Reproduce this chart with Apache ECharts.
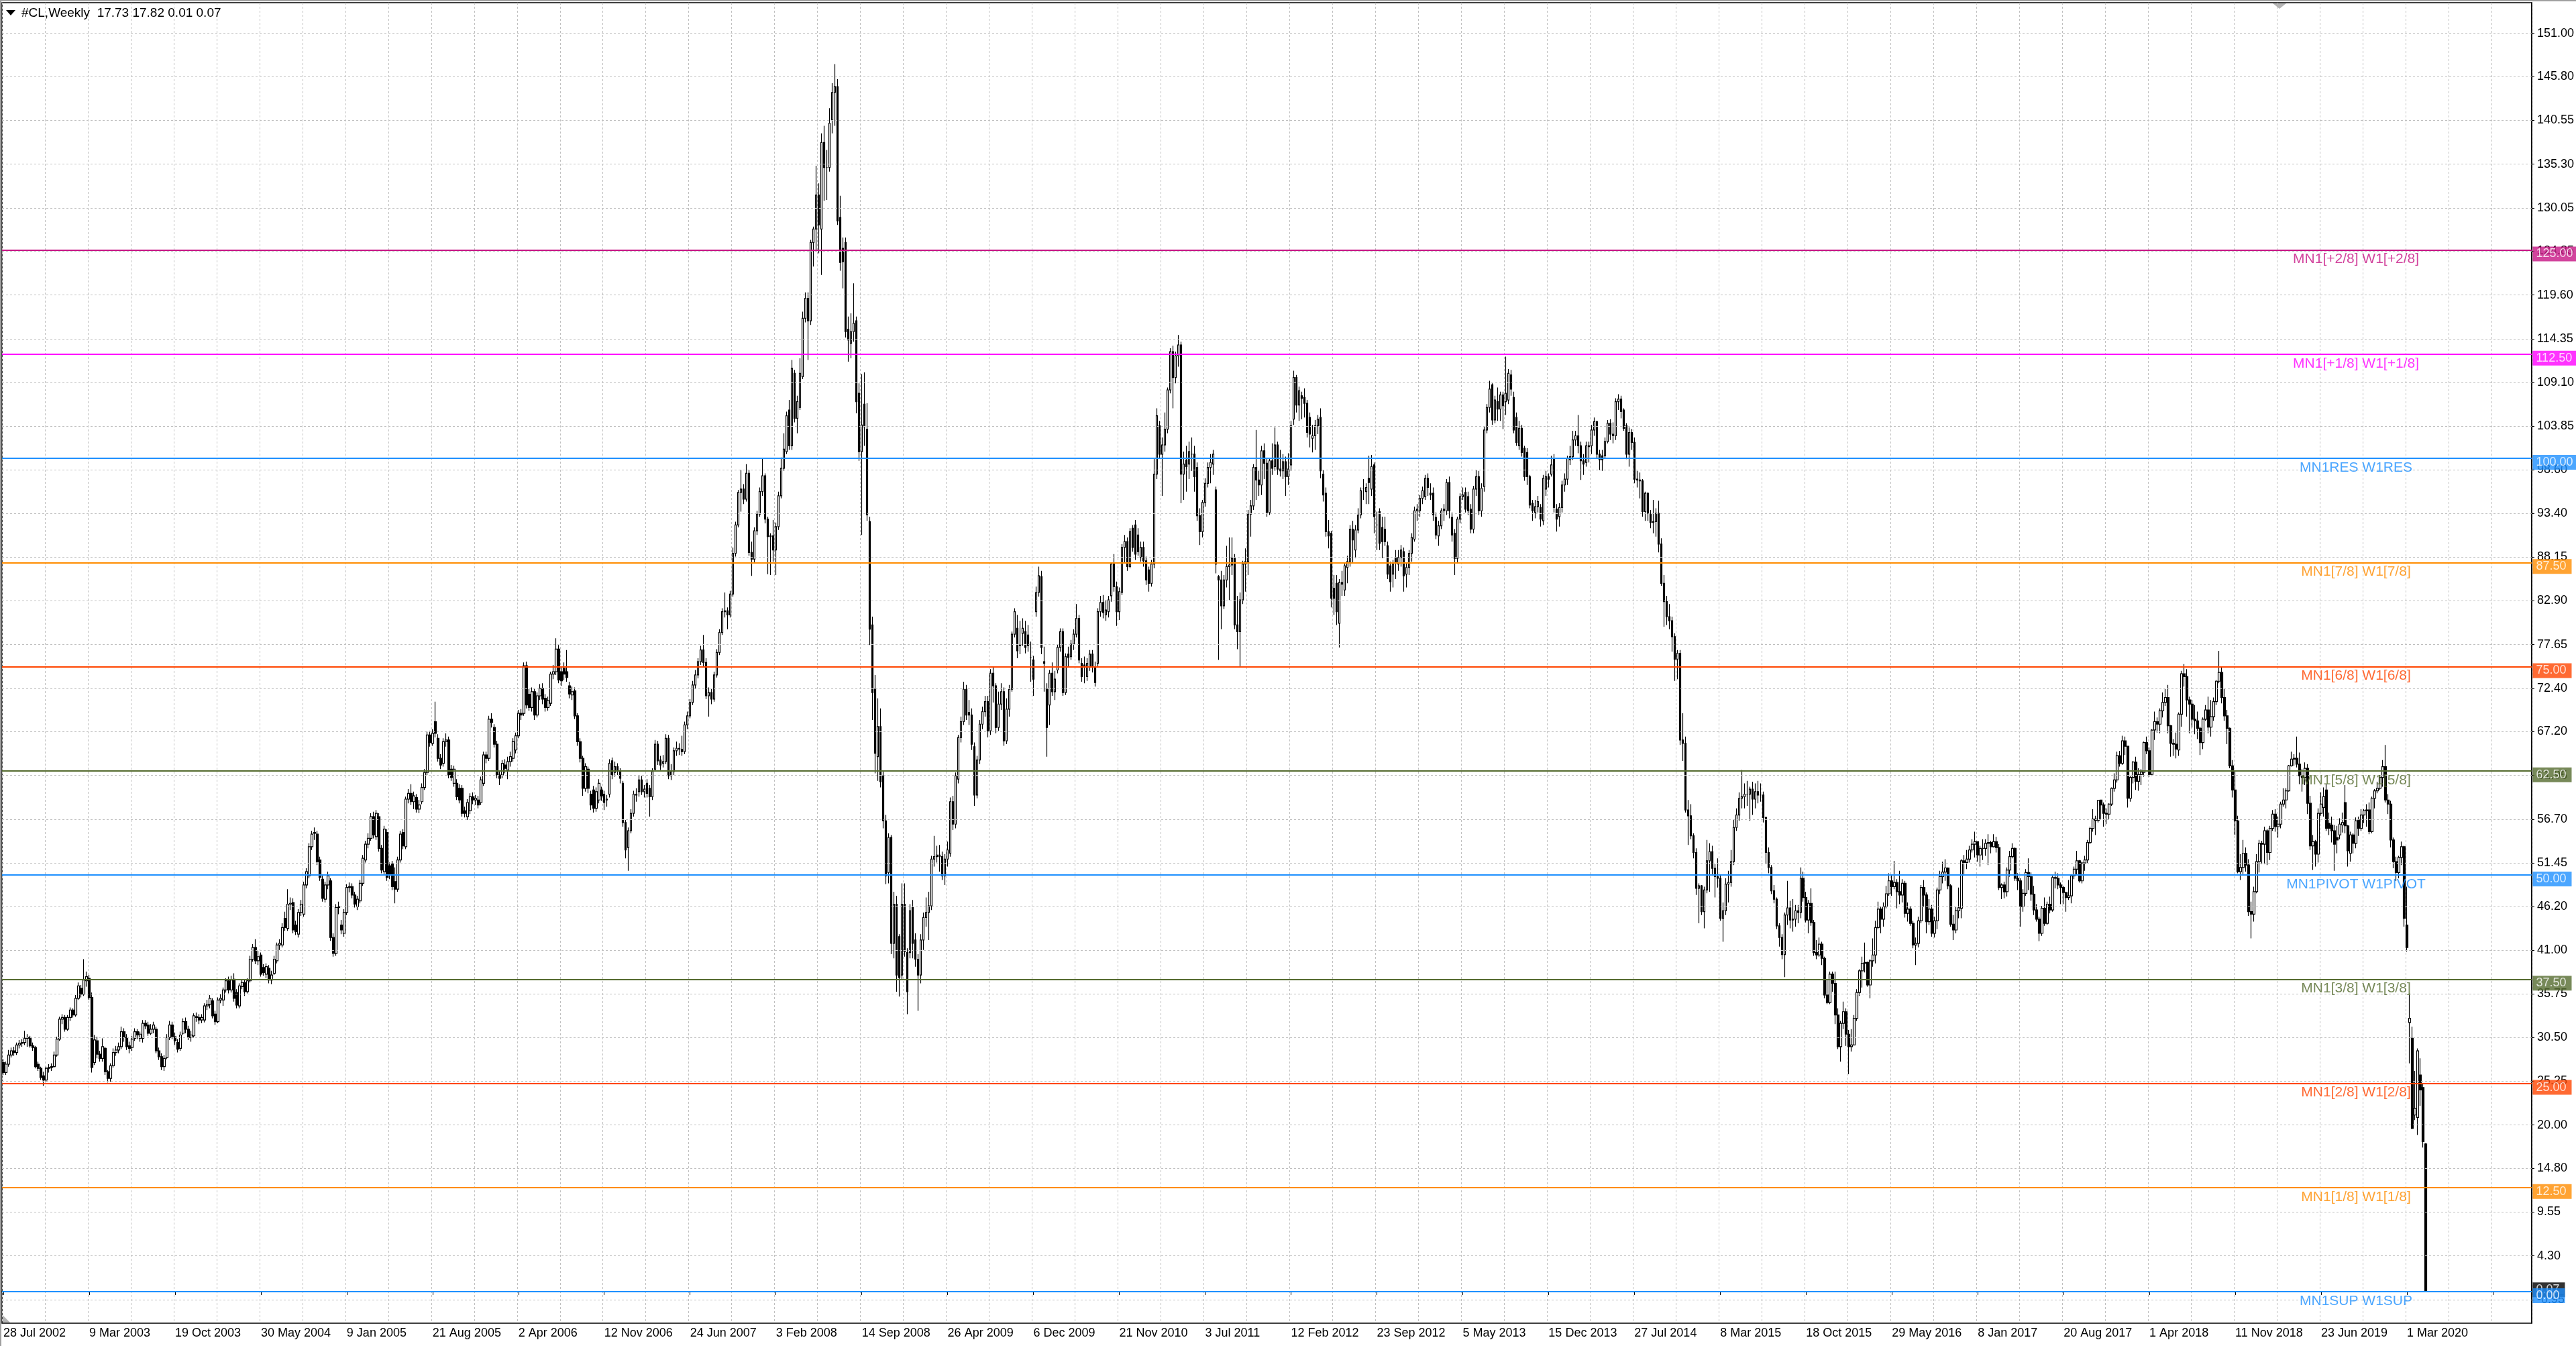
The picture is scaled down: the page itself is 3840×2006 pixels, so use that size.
<!DOCTYPE html>
<html>
<head>
<meta charset="utf-8">
<script src="https://cdn.jsdelivr.net/npm/echarts@6/dist/echarts.min.js"></script>
<style>
html,body{margin:0;padding:0;background:#fff;}
#chart{width:3840px;height:2006px;}
</style>
</head>
<body>
<div id="chart"></div>
<script>
// ---- Data: weekly bars of #CL, each entry [open, close, low, high] ----
const d2002 = [[27.5,26.3,26.0,27.9],[26.3,27.3,26.0,27.6],[27.3,28.4,27.0,29.0],[28.4,28.9,28.1,29.3],[28.9,28.7,28.3,29.4],[28.7,29.6,28.4,29.9],[29.6,29.8,29.2,30.2],[29.8,29.9,29.4,30.3],[29.9,30.4,29.6,31.3],[30.4,30.5,29.4,30.9],[30.5,29.5,29.3,30.7],[29.5,29.3,28.9,29.9],[29.3,27.0,26.8,29.5],[27.3,26.8,26.5,27.6],[26.8,25.7,25.4,27.0],[25.9,25.4,24.7,26.4],[25.4,26.8,25.2,27.0],[26.8,26.9,26.3,27.3],[26.9,27.0,26.5,27.4],[27.0,28.4,26.9,28.8],[28.4,30.3,28.2,30.6],[30.3,32.7,30.1,33.0],[32.7,32.9,32.1,33.3]];
const d2003 = [[32.9,31.5,31.2,33.2],[31.5,32.9,31.3,33.2],[32.9,33.8,32.5,34.1],[33.8,33.2,32.9,34.0],[33.2,35.2,33.0,35.6],[35.2,36.7,35.0,37.1],[36.4,35.7,35.3,36.8],[35.7,37.4,35.5,39.9],[37.3,37.8,36.6,38.4],[37.6,35.3,35.0,38.0],[35.3,26.9,26.3,35.9],[27.5,30.2,27.2,30.8],[30.1,28.5,28.0,30.6],[28.5,28.0,27.6,28.9],[28.0,29.4,27.6,30.4],[29.2,26.4,26.0,29.4],[26.4,25.6,25.1,26.6],[25.6,27.1,25.2,27.4],[27.1,28.7,26.9,29.2],[28.7,29.0,28.3,29.5],[29.0,29.4,28.6,29.9],[29.4,31.2,29.1,31.8],[31.2,30.5,30.0,31.6],[30.5,29.4,29.0,30.9],[29.5,29.2,28.6,30.0],[29.3,30.3,28.9,30.7],[30.4,31.2,30.1,31.6],[31.2,30.8,30.3,31.5],[30.4,30.9,30.0,31.2],[30.4,32.2,29.9,32.6],[32.2,31.9,31.5,32.6],[32.0,31.0,30.7,32.4],[31.0,31.5,30.8,32.1],[31.5,32.0,31.0,32.4],[31.5,28.9,28.6,31.8],[28.9,28.2,27.8,29.3],[28.2,27.0,26.6,28.6],[27.0,28.0,26.5,28.4],[28.1,30.5,27.9,30.9],[30.5,32.0,30.2,32.5],[32.0,30.6,30.3,32.4],[30.6,30.1,29.6,31.1],[29.9,29.1,28.7,30.3],[29.2,30.8,28.9,31.2],[31.0,32.4,30.8,32.8],[32.4,31.5,31.0,32.9],[31.5,30.5,30.2,31.9],[30.5,30.8,30.0,31.3],[30.7,33.1,30.5,33.4],[33.0,32.9,32.4,33.5],[32.9,32.6,32.1,33.3],[32.6,32.9,32.2,33.3]];
const d2004 = [[32.6,34.3,32.3,34.6],[34.3,34.5,33.8,35.0],[34.5,35.2,34.0,35.6],[34.9,33.1,32.8,35.2],[33.3,32.4,32.0,33.7],[32.4,35.0,32.2,35.3],[35.0,35.2,34.6,35.7],[35.0,36.2,34.3,36.5],[36.2,37.3,35.9,37.6],[37.3,36.2,35.8,37.8],[36.2,37.4,35.9,37.9],[37.5,35.2,34.8,38.2],[35.9,34.4,34.0,36.3],[34.3,36.7,34.0,37.0],[36.6,37.1,36.3,37.5],[37.1,36.0,35.5,37.4],[36.0,37.3,35.8,37.6],[37.3,39.9,37.1,40.3],[39.9,41.3,39.6,41.7],[41.3,39.7,39.3,42.3],[39.7,40.2,39.2,40.9],[40.4,38.1,37.8,40.7],[38.9,38.3,37.9,39.3],[38.1,39.0,37.6,39.4],[38.8,37.4,37.0,39.2],[37.4,38.0,36.9,38.5],[38.2,39.9,38.0,40.3],[39.7,41.6,39.4,41.9],[41.6,41.8,41.0,42.3],[41.6,43.7,41.3,44.2],[44.8,43.7,43.3,45.6],[43.6,46.5,43.3,48.3],[46.5,46.6,45.8,47.3],[46.7,43.4,43.0,47.2],[44.0,43.2,42.8,44.5],[42.9,45.5,42.5,45.9],[45.5,46.5,45.1,47.0],[45.3,48.8,45.0,49.2],[48.8,50.4,48.4,50.8],[49.9,53.4,49.6,53.8],[53.4,54.9,53.0,55.3],[55.1,55.0,54.2,55.7],[54.9,51.6,51.2,55.3],[51.8,49.7,49.3,52.2],[49.5,47.2,46.8,49.9],[47.1,48.8,46.7,49.2],[48.8,49.9,48.3,50.4],[49.3,42.5,42.1,49.6],[42.5,40.6,40.2,43.0],[40.6,46.1,40.3,46.5],[46.1,46.2,45.3,46.8],[44.0,43.4,42.9,44.6]];
const d2005 = [[43.0,45.5,42.6,45.9],[45.5,48.5,45.2,48.9],[48.5,48.6,47.9,49.1],[48.6,47.6,47.2,49.0],[47.6,46.5,46.1,48.0],[46.2,47.1,45.8,47.5],[46.9,49.0,46.6,49.4],[49.0,52.0,48.7,52.4],[51.8,53.7,51.5,54.1],[53.7,54.4,53.2,55.0],[54.4,57.0,54.1,57.4],[57.0,54.8,54.4,57.6],[54.6,57.4,54.2,57.8],[57.0,53.2,52.8,57.4],[53.2,50.6,50.2,53.6],[50.4,55.5,50.1,55.9],[55.1,49.7,49.3,55.5],[51.1,50.0,49.5,51.5],[51.3,48.6,48.2,51.7],[49.2,48.3,46.6,50.9],[48.3,51.8,48.0,52.2],[51.8,54.9,51.5,55.3],[55.1,53.5,53.1,55.5],[53.4,59.1,53.1,59.4],[59.1,59.8,58.6,60.3],[59.8,58.8,58.4,60.9],[58.8,59.5,57.9,60.0],[59.3,57.9,57.5,59.7],[57.9,58.4,57.4,59.0],[58.8,60.5,58.5,61.0],[60.5,62.3,60.2,62.7],[62.3,66.8,62.0,67.2],[66.8,65.9,65.4,67.3],[65.8,67.0,65.5,67.5],[68.4,67.0,66.5,70.8],[66.4,64.0,63.6,66.9],[64.0,63.2,62.7,64.5],[63.4,66.0,63.0,66.4],[66.0,66.2,65.4,67.0],[66.2,62.0,61.6,66.6],[62.7,61.7,61.3,63.2],[61.0,62.7,60.6,63.1],[61.0,59.4,59.0,61.5],[60.4,59.0,58.6,60.9],[60.4,57.4,57.0,60.8],[57.7,57.4,56.9,58.2],[57.0,58.7,56.6,59.1],[57.7,59.4,57.3,59.8],[59.4,59.0,58.5,59.9],[59.0,59.2,58.4,59.6],[59.0,58.4,58.0,59.5],[58.7,61.4,58.4,61.8]];
const d2006 = [[61.0,64.4,60.7,64.8],[64.4,64.0,63.4,64.8],[64.0,68.7,63.7,69.1],[68.7,68.3,67.7,69.4],[67.7,65.7,65.3,68.1],[65.7,62.0,61.6,66.1],[62.0,61.6,60.8,62.4],[62.0,63.4,61.6,63.8],[63.2,62.8,62.2,63.9],[62.6,63.6,61.5,64.2],[63.6,64.2,63.0,64.8],[64.0,66.0,63.6,66.4],[65.0,66.7,64.6,67.1],[66.7,69.4,66.4,69.8],[69.4,69.2,68.6,69.9],[69.4,75.1,69.1,75.5],[75.1,70.4,70.0,75.6],[71.7,70.1,69.7,72.3],[70.1,72.0,69.6,72.5],[72.0,69.2,68.6,72.4],[69.2,71.5,68.9,71.9],[71.5,72.4,71.0,72.9],[72.4,71.1,70.5,73.0],[71.2,70.1,69.6,71.7],[70.1,70.9,69.7,71.4],[70.6,74.1,70.3,74.4],[74.1,74.4,73.5,75.2],[74.4,77.1,74.0,78.4],[77.1,73.4,73.0,77.6],[74.4,73.3,72.7,75.0],[74.8,74.1,73.4,75.5],[74.4,73.7,73.2,77.0],[72.7,71.7,71.2,73.2],[71.6,72.0,71.0,72.6],[72.1,69.1,68.7,72.5],[69.1,66.0,65.5,69.4],[66.0,64.0,63.5,66.4],[64.0,60.4,59.5,64.3],[60.4,63.0,60.0,63.4],[62.7,60.4,59.8,63.0],[59.7,58.4,57.8,60.1],[60.2,58.0,57.5,60.7],[58.0,60.0,57.6,60.5],[59.0,61.0,58.6,61.5],[60.2,59.5,58.9,60.6],[59.7,58.7,57.8,60.1],[59.0,59.1,58.2,59.6],[59.7,63.4,59.3,63.9],[63.7,62.0,61.5,64.1],[62.3,63.0,61.8,63.6],[63.0,62.6,62.0,63.4],[62.4,61.6,61.0,62.8]];
const d2007 = [[61.0,56.3,55.8,61.3],[56.3,53.0,52.0,56.6],[53.3,55.3,50.5,55.7],[55.3,57.4,55.0,57.9],[57.4,59.7,57.0,60.1],[59.7,59.6,58.8,60.4],[60.0,61.4,59.4,61.9],[61.4,60.0,59.6,61.9],[60.0,60.3,59.3,60.8],[61.0,59.8,59.3,61.5],[60.4,59.4,57.0,60.8],[59.4,62.4,59.0,62.8],[62.7,65.7,62.4,66.2],[65.7,63.7,63.2,66.1],[63.8,63.2,62.6,64.3],[63.4,63.6,62.9,64.4],[63.6,66.4,63.3,66.9],[66.4,61.9,61.5,66.8],[61.9,62.4,61.4,63.3],[62.4,64.9,62.0,65.3],[64.9,65.2,64.3,66.0],[65.2,65.1,64.4,65.8],[65.1,64.8,64.3,66.7],[64.8,68.0,64.5,68.4],[68.0,69.1,67.5,69.6],[69.1,70.7,68.8,71.1],[70.7,72.8,70.4,73.3],[72.8,74.0,72.3,74.6],[74.0,75.6,73.6,76.0],[75.6,77.0,75.2,77.5],[77.0,75.5,75.0,78.8],[75.5,71.5,71.1,76.0],[71.5,71.9,69.0,72.5],[71.9,71.1,70.5,72.3],[71.1,74.0,70.8,74.4],[74.0,76.7,73.7,77.1],[76.7,79.1,76.4,79.5],[79.1,81.6,78.8,82.0],[81.6,81.7,80.9,83.9],[81.7,81.2,79.5,82.1],[81.2,83.7,80.9,84.1],[83.7,88.6,83.4,89.3],[88.6,92.0,88.2,92.4],[92.0,95.9,91.7,96.2],[95.9,96.3,93.6,98.6],[96.3,95.1,94.5,96.9],[95.1,98.2,94.8,99.3],[98.2,88.7,88.3,98.6],[88.7,87.9,85.9,90.0],[87.9,91.3,87.5,91.7],[91.3,93.3,90.8,93.7],[93.3,96.0,93.0,96.5]];
const d2008 = [[96.0,97.9,95.5,100.0],[97.9,92.7,92.2,98.2],[92.7,90.6,86.1,93.0],[90.6,90.7,86.0,91.0],[90.7,89.0,87.6,92.6],[89.0,91.8,86.0,92.3],[91.8,95.5,91.4,96.0],[95.5,98.8,95.2,100.1],[98.8,101.1,98.5,103.0],[100.8,105.1,100.5,105.6],[105.8,101.5,101.0,107.0],[101.5,110.8,101.0,111.8],[110.2,104.8,104.3,110.6],[104.8,106.8,103.0,107.5],[106.1,110.2,105.8,112.0],[109.8,116.8,109.5,117.6],[116.8,119.2,116.3,119.9],[119.2,116.5,111.8,119.9],[116.5,125.9,116.0,126.2],[125.9,127.5,123.0,127.8],[127.5,131.6,125.0,135.1],[131.6,128.0,124.6,133.0],[127.5,137.9,122.0,139.0],[137.9,134.9,130.9,139.9],[134.9,134.9,131.0,137.0],[134.9,140.2,134.4,142.0],[140.6,143.9,139.0,145.0],[143.9,144.6,139.9,147.3],[144.6,128.5,128.0,145.5],[128.9,123.5,122.5,131.5],[125.2,123.6,120.4,126.5],[125.9,115.2,114.5,126.5],[115.5,114.2,111.6,117.0],[113.8,115.2,112.0,117.4],[115.2,116.2,114.0,121.0],[116.5,106.8,105.4,117.0],[107.8,100.8,99.7,109.0],[100.8,104.0,90.8,110.1],[106.5,103.8,101.5,110.3],[103.5,93.2,92.5,106.6],[92.4,79.5,77.6,93.0],[80.0,71.9,68.6,81.0],[72.3,64.6,62.2,74.0],[64.2,67.8,61.3,71.2],[67.8,61.2,60.5,70.0],[61.9,56.5,55.6,62.5],[56.5,49.9,48.9,57.2],[50.3,54.5,49.0,55.0],[54.5,41.8,40.5,54.8],[41.8,46.5,40.0,48.0],[46.5,38.0,36.0,47.5],[42.6,37.7,35.4,42.9]];
const d2009 = [[38.0,46.5,37.5,49.0],[46.5,40.8,40.2,49.0],[40.7,36.0,33.3,41.2],[40.7,45.7,40.0,46.5],[46.1,41.8,40.0,47.0],[42.2,39.9,39.0,43.0],[39.9,38.0,33.7,40.5],[38.0,42.2,37.0,42.9],[42.2,44.9,41.0,45.5],[44.9,45.5,43.8,47.3],[45.5,46.3,42.2,48.0],[46.3,51.9,45.8,52.3],[51.9,52.2,51.0,54.7],[52.2,52.4,51.5,53.5],[52.4,52.2,50.4,53.6],[52.2,49.9,49.4,52.8],[49.9,51.9,48.8,52.5],[51.9,53.0,51.0,54.0],[52.6,58.8,52.2,59.3],[58.8,56.1,55.4,59.5],[56.1,61.9,55.6,62.3],[61.5,66.5,61.0,66.8],[66.5,68.4,65.9,69.0],[68.4,72.3,68.0,73.2],[72.3,69.2,68.6,72.8],[69.5,69.2,68.0,71.0],[69.2,65.7,65.0,70.0],[65.4,59.6,58.3,65.9],[59.6,63.8,59.2,64.3],[63.8,68.1,63.3,68.6],[68.1,69.6,67.5,70.2],[69.6,70.8,69.0,71.5],[70.8,67.3,66.5,71.5],[67.3,74.2,66.8,74.7],[74.2,72.7,70.7,75.0],[72.7,67.7,67.0,73.0],[67.7,70.5,67.3,72.0],[70.5,72.0,69.8,73.0],[72.0,66.1,65.5,72.5],[66.1,69.9,65.7,71.2],[69.9,72.3,69.0,72.8],[72.3,78.9,72.0,79.2],[78.9,81.6,78.5,82.0],[79.6,76.9,76.0,81.2],[77.5,77.6,76.5,80.5],[79.0,79.6,77.5,80.8],[79.2,77.3,76.6,80.5],[78.8,77.5,76.8,80.0],[76.1,76.1,73.2,78.0],[75.8,73.5,71.5,76.3]];
const d2010 = [[81.6,83.9,81.0,84.6],[83.9,85.9,83.4,87.0],[85.8,77.3,76.5,86.5],[75.6,75.4,72.0,77.4],[72.3,67.7,64.2,73.0],[70.4,74.2,68.0,74.6],[74.2,72.0,71.5,75.5],[72.0,73.5,71.0,74.5],[74.6,77.3,74.2,77.7],[77.3,79.2,76.8,79.6],[79.2,71.9,71.5,79.6],[71.9,76.2,71.6,76.6],[76.5,76.1,75.0,77.4],[76.2,77.7,75.8,78.2],[77.7,78.9,77.0,79.5],[78.9,80.8,78.5,82.5],[80.8,75.8,75.4,81.2],[75.4,73.8,73.2,76.0],[75.2,75.0,73.0,76.2],[73.8,75.4,73.3,76.0],[75.0,76.5,74.5,77.0],[76.5,75.0,74.3,77.0],[75.0,73.1,72.6,75.6],[75.4,81.6,75.0,82.0],[81.6,82.7,81.0,83.5],[82.7,81.5,80.8,83.6],[81.2,81.8,80.5,83.0],[81.6,83.0,80.9,83.5],[83.5,87.3,82.8,87.5],[87.3,84.6,84.0,88.5],[84.6,81.6,79.9,85.2],[81.6,84.0,80.6,84.5],[83.9,89.3,83.6,89.7],[89.3,90.0,87.5,90.8],[90.0,87.0,86.5,90.5],[87.0,91.2,86.8,91.6],[91.6,89.3,88.8,92.0]];
const d2011 = [[92.0,88.5,87.8,92.6],[90.8,88.8,88.3,91.6],[88.1,89.3,87.6,90.0],[89.3,87.7,87.0,90.0],[87.7,85.4,84.8,88.2],[86.6,85.0,84.0,87.0],[85.0,87.3,84.6,87.8],[87.3,98.1,86.8,100.0],[98.1,105.1,97.5,106.0],[103.9,100.5,100.0,104.5],[100.5,101.6,95.5,102.5],[101.6,103.5,100.8,105.5],[103.5,108.2,103.0,108.5],[108.2,112.8,107.8,113.2],[112.8,109.7,106.0,113.5],[109.7,112.3,109.0,112.8],[112.3,113.6,111.0,114.8],[113.6,98.1,94.6,114.0],[98.1,99.3,95.0,100.8],[99.8,99.0,96.0,101.5],[99.3,100.8,97.5,102.0],[100.5,100.5,98.5,102.5],[100.5,97.8,96.0,101.5],[98.9,93.1,92.5,99.5],[93.1,91.2,89.6,94.0],[91.2,94.7,90.5,95.0],[94.7,97.0,94.2,97.6],[97.0,98.9,96.5,99.5],[98.9,99.5,97.0,100.5],[99.3,100.5,98.0,101.0],[96.2,87.3,86.2,96.6],[85.8,85.4,75.8,86.0],[85.4,82.3,79.5,86.5],[82.3,85.4,81.9,86.0],[85.4,87.0,84.5,89.5],[87.0,87.2,83.0,90.5],[87.2,88.0,86.0,90.5],[88.0,80.0,79.5,88.5],[80.0,79.2,77.1,83.5],[79.2,83.0,75.0,83.9],[83.0,87.3,82.5,87.7],[87.3,87.6,84.0,89.2],[87.6,93.3,86.0,93.8],[93.3,94.3,90.6,95.0],[94.3,98.9,93.8,99.3],[98.9,97.4,95.0,103.4],[97.4,96.8,95.5,98.5],[96.8,100.9,95.6,101.5],[100.9,99.4,97.5,101.8],[99.4,93.5,93.0,100.0],[93.5,99.7,93.2,100.0],[99.7,98.8,98.0,101.8]];
const d2012 = [[99.0,101.6,98.5,103.7],[101.6,98.7,98.0,102.0],[98.7,98.5,97.8,101.0],[98.5,99.6,97.5,100.5],[99.6,97.8,95.5,100.2],[97.8,98.7,96.8,100.6],[99.2,103.9,98.5,104.5],[104.7,109.7,104.0,110.5],[109.7,106.4,105.5,110.0],[106.4,108.1,104.5,108.6],[107.5,107.2,104.7,108.0],[107.3,106.6,104.9,108.4],[106.6,103.1,102.5,107.0],[104.9,102.9,101.3,105.5],[102.4,102.7,100.7,104.0],[102.7,103.9,101.0,104.6],[103.9,104.7,102.9,105.2],[104.9,98.5,97.6,106.0],[98.1,95.6,94.8,98.6],[95.8,91.2,90.6,96.5],[91.2,90.7,89.2,92.6],[91.0,83.2,82.1,91.3],[84.4,83.2,81.2,86.0],[85.0,81.6,80.0,86.0],[80.2,85.1,77.3,85.5],[85.1,84.9,83.5,86.5],[84.2,87.1,83.5,87.5],[86.9,87.6,85.0,88.3],[87.4,91.5,87.0,92.0],[91.5,90.2,87.5,92.5],[89.0,91.4,88.0,92.0],[91.4,93.2,91.0,94.0],[93.2,96.1,92.8,96.5],[96.4,96.4,95.0,97.5],[96.0,96.5,94.5,97.0],[97.6,97.1,94.5,100.3],[96.3,99.0,95.5,100.4],[99.2,93.0,91.0,99.5],[92.0,92.0,89.0,93.6],[93.6,89.8,89.0,94.0],[91.7,90.0,88.0,93.0],[91.5,90.0,89.5,93.0],[89.5,86.1,85.5,90.0],[87.1,85.2,84.0,87.6],[86.1,87.3,84.5,87.8],[88.1,87.4,85.5,89.0],[87.3,88.1,86.5,89.0],[88.1,89.0,87.0,89.6],[88.8,85.9,84.0,89.3],[86.1,86.9,84.5,87.5],[86.9,88.6,86.0,89.0],[88.6,90.5,87.6,91.0]];
const d2013 = [[90.3,93.7,90.0,94.2],[93.7,93.9,92.5,94.5],[93.7,95.2,93.0,95.6],[95.2,96.1,94.5,96.6],[95.4,97.6,95.0,98.0],[97.6,96.5,95.5,98.2],[95.8,95.6,95.0,97.0],[95.8,93.2,92.5,96.5],[92.9,90.8,90.3,93.5],[90.7,91.9,89.5,92.5],[91.9,93.7,91.5,94.0],[93.7,93.9,92.5,94.5],[93.7,97.1,93.2,97.5],[97.1,93.7,92.8,97.8],[92.9,90.8,90.0,93.5],[91.0,88.0,86.0,91.5],[88.0,92.7,87.5,93.0],[92.7,95.4,92.2,95.8],[95.4,95.6,95.0,96.5],[95.9,93.9,93.5,96.5],[95.4,93.7,93.2,96.0],[93.9,91.5,91.0,94.5],[91.5,96.3,91.0,96.7],[96.3,97.8,95.5,98.6],[97.8,93.7,93.2,98.5],[93.7,96.4,93.0,97.0],[96.6,103.4,96.0,103.8],[103.4,106.1,103.0,106.5],[106.1,108.3,105.5,109.3],[108.8,104.6,104.0,109.0],[104.6,107.0,104.2,107.5],[106.8,105.9,104.5,108.5],[105.9,107.6,104.5,108.0],[107.6,106.3,103.5,108.0],[106.8,107.8,105.2,112.2],[107.0,110.2,106.5,110.7],[110.0,108.3,107.5,110.6],[107.3,103.4,103.0,108.0],[104.9,101.9,101.5,105.5],[101.5,103.6,101.0,104.5],[103.6,100.7,100.2,104.0],[101.2,97.8,97.3,101.5],[100.7,97.8,96.8,101.2],[97.8,94.4,94.0,98.0],[94.6,93.7,92.5,95.0],[93.5,94.2,92.8,95.0],[94.2,94.8,93.5,95.5],[94.1,92.7,91.8,94.5],[92.5,97.6,92.0,98.0],[96.3,97.8,95.5,98.5],[97.8,97.5,96.5,98.2],[98.1,99.2,97.8,100.3]];
const d2014 = [[100.0,94.1,93.5,100.5],[93.9,92.7,91.2,94.5],[93.0,94.1,91.8,94.6],[94.1,96.8,93.5,97.3],[96.8,97.5,96.0,98.2],[97.5,100.0,96.8,100.3],[99.8,100.2,99.2,101.5],[100.2,102.2,99.8,103.3],[102.2,102.7,101.5,103.3],[102.7,101.5,100.6,105.2],[101.5,99.7,97.4,102.0],[99.7,99.3,98.0,100.5],[99.5,101.5,99.0,102.0],[101.5,101.4,99.5,102.0],[101.5,103.4,100.5,104.0],[103.4,104.4,102.7,104.9],[104.4,100.5,100.0,104.5],[100.5,99.8,98.6,101.0],[100.3,99.8,98.5,101.0],[100.3,102.0,100.0,102.5],[102.0,104.2,101.8,104.6],[104.2,102.9,102.2,104.7],[102.9,102.7,101.8,104.3],[102.7,106.8,102.2,107.2],[106.8,107.1,105.8,107.7],[107.1,105.6,104.8,107.5],[105.8,103.6,103.3,106.0],[103.9,100.5,99.9,104.2],[100.5,103.1,99.0,103.7],[103.1,101.9,101.0,103.5],[101.9,97.5,97.0,102.5],[97.5,97.4,96.5,98.5],[97.4,97.3,95.2,98.3],[97.3,93.6,93.0,97.5],[93.6,95.8,92.5,96.0],[95.8,93.4,92.5,95.9],[93.3,92.3,91.6,93.8],[92.3,92.4,91.0,95.0],[92.4,93.4,90.6,94.0],[93.4,89.7,88.7,94.9],[89.7,85.0,84.7,90.4],[85.0,82.8,79.8,86.0],[82.8,81.0,80.0,83.5],[81.0,80.5,79.5,82.5],[80.5,78.6,76.8,81.0],[78.6,75.9,73.3,79.0],[75.9,76.6,73.5,77.0],[76.6,66.2,65.6,77.0],[66.2,65.8,63.7,69.4],[65.8,57.8,57.5,66.6],[57.8,57.1,53.6,59.0],[57.1,54.7,54.3,58.5]];
const d2015 = [[54.7,52.7,52.0,55.0],[52.7,48.4,47.6,53.2],[48.4,48.7,44.2,49.0],[48.7,45.6,45.2,48.8],[45.6,48.2,43.6,48.6],[48.2,51.7,47.8,54.2],[51.7,52.8,48.0,53.8],[52.8,50.8,49.9,53.5],[50.8,49.8,47.3,51.3],[49.8,49.6,48.5,52.0],[49.6,44.8,44.5,50.0],[44.8,45.7,42.0,46.7],[45.7,48.9,45.2,49.6],[48.9,49.1,46.7,50.5],[49.1,51.6,48.6,53.0],[51.6,55.7,51.2,56.6],[55.7,57.2,55.3,58.0],[57.2,59.2,56.5,59.9],[59.2,59.4,58.0,62.6],[59.4,59.7,58.0,61.0],[59.7,59.7,58.3,61.3],[59.7,60.3,56.5,60.6],[60.3,59.1,57.2,61.2],[59.1,60.0,58.0,61.0],[60.0,59.6,58.6,61.3],[59.6,59.6,58.8,61.0],[59.6,56.9,56.3,60.0],[56.9,52.7,51.3,57.0],[52.7,50.9,50.2,53.3],[50.9,48.1,47.7,51.2],[48.1,47.1,46.6,48.8],[47.1,43.9,43.5,47.3],[43.9,42.5,41.4,44.2],[42.5,40.45,39.9,42.9],[40.45,45.2,37.75,45.5],[45.2,46.05,44.0,49.3],[46.05,44.6,43.6,46.9],[44.6,44.7,43.2,47.1],[44.7,45.7,43.8,46.4],[45.7,45.5,44.2,46.4],[45.5,49.6,44.8,50.9],[49.6,47.3,46.8,50.4],[47.3,44.6,44.3,48.0],[44.6,46.6,43.0,47.0],[46.6,44.3,43.9,48.4],[44.3,40.7,40.3,44.6],[40.7,40.4,39.9,42.2],[40.4,41.7,40.2,42.5],[41.7,40.0,39.2,42.0],[40.0,35.6,35.2,40.2],[35.6,34.7,34.5,37.4],[34.7,38.1,34.5,38.4],[38.1,37.0,36.0,38.4]];
const d2016 = [[37.0,33.2,32.1,38.4],[33.2,29.4,29.1,34.0],[29.4,32.2,27.6,32.5],[32.2,33.6,31.5,34.8],[33.6,30.9,29.5,34.0],[30.9,29.4,26.1,31.4],[29.4,29.6,28.8,31.5],[29.6,32.8,30.0,33.2],[32.8,35.9,32.5,36.3],[35.9,38.5,35.5,38.7],[38.5,39.4,36.5,40.2],[39.4,39.5,38.3,41.9],[39.5,36.8,36.6,39.6],[36.8,39.7,35.2,39.9],[39.7,40.4,39.0,42.4],[40.4,43.7,39.4,44.5],[43.7,45.9,43.5,46.8],[45.9,44.7,43.0,46.2],[44.7,46.2,43.8,46.7],[46.2,47.75,46.0,48.7],[47.75,49.3,47.5,50.2],[49.3,48.6,47.5,50.0],[48.6,49.1,48.3,51.7],[49.1,48.0,46.0,49.5],[48.0,47.6,46.5,50.5],[47.6,49.0,46.7,49.5],[49.0,45.4,44.9,49.3],[45.4,45.9,44.4,46.7],[45.9,44.2,43.9,46.3],[44.2,41.6,41.2,44.5],[41.6,41.8,39.2,42.5],[41.8,44.5,41.3,45.0],[44.5,48.5,44.2,48.8],[48.5,47.6,46.2,49.4],[47.6,44.4,43.0,47.9],[44.4,45.9,44.0,47.1],[45.9,43.0,42.6,46.4],[43.0,44.5,42.5,45.0],[44.5,48.2,43.5,48.5],[48.2,49.8,47.7,50.5],[49.8,50.35,49.0,51.6],[50.35,50.85,49.3,51.9],[50.85,48.7,48.3,50.9],[48.7,44.1,43.8,48.9],[44.1,43.4,42.2,45.2],[43.4,45.7,43.0,46.2],[45.7,46.06,44.8,48.5],[46.0,51.7,44.8,51.9],[51.7,51.5,49.9,52.4],[51.5,51.9,50.7,53.0],[51.9,53.0,51.5,53.5],[53.0,53.7,52.7,54.3]];
const d2017 = [[53.7,54.0,52.1,55.2],[54.0,52.4,51.6,54.0],[52.4,53.2,51.0,53.5],[53.2,53.2,51.8,54.3],[53.2,53.8,52.3,54.3],[53.8,53.9,51.2,54.9],[53.9,53.4,52.6,54.1],[53.4,54.0,53.3,54.9],[54.0,53.3,52.7,54.6],[53.3,48.5,48.2,53.7],[48.5,48.8,47.1,49.0],[48.8,47.97,47.2,49.2],[48.0,50.6,47.4,50.9],[50.6,52.2,49.8,52.9],[52.2,53.2,52.0,53.8],[53.2,49.6,49.3,53.3],[49.6,49.3,48.2,50.2],[49.3,46.2,43.8,49.6],[46.2,47.8,45.6,48.3],[47.8,50.3,47.5,50.7],[50.3,49.8,48.2,52.0],[49.8,47.7,46.9,50.3],[47.7,45.8,45.2,48.7],[45.8,44.7,44.4,46.5],[44.7,43.0,42.05,45.0],[43.0,46.0,42.7,46.3],[46.0,44.2,43.9,47.3],[44.2,46.5,44.0,46.8],[46.5,45.8,45.4,47.4],[45.8,49.7,45.6,49.9],[49.7,49.6,48.4,50.4],[49.6,48.8,48.3,50.2],[48.8,48.5,46.5,49.1],[48.5,47.9,46.5,48.7],[47.9,47.3,45.6,48.0],[47.3,47.5,47.0,49.4],[47.5,49.9,46.6,50.1],[49.9,50.7,49.5,51.0],[50.7,51.7,50.0,52.9],[51.7,49.3,49.1,51.8],[49.3,51.45,49.0,51.6],[51.45,51.8,50.5,52.3],[51.8,53.9,51.4,54.2],[53.9,55.6,53.7,55.8],[55.6,56.7,55.2,57.9],[56.7,56.55,54.8,57.1],[56.55,58.95,56.3,59.0],[59.0,58.4,56.7,59.0],[58.4,57.4,55.8,58.7],[57.4,57.3,56.1,58.0],[57.3,58.5,56.7,58.6],[58.5,60.4,58.3,60.5]];
const d2018 = [[60.4,61.4,60.0,62.2],[61.4,64.3,61.1,64.8],[64.3,63.4,63.0,64.9],[63.4,66.1,63.2,66.7],[66.1,65.45,64.4,66.6],[65.45,59.2,58.1,65.5],[59.2,61.7,58.8,61.9],[61.7,63.55,61.0,63.7],[63.55,61.25,60.2,64.2],[61.25,62.04,60.1,62.8],[62.04,62.34,60.8,62.7],[62.3,65.9,61.8,66.0],[65.9,64.9,64.5,66.6],[64.9,62.06,61.8,65.3],[62.06,67.39,61.9,67.5],[67.4,68.4,66.2,69.6],[68.4,68.1,67.1,68.9],[68.1,69.7,67.0,70.0],[69.7,70.7,68.9,71.9],[70.7,71.3,70.3,72.3],[71.3,67.9,67.0,72.8],[67.9,65.8,64.2,68.0],[65.8,65.7,64.3,66.3],[65.7,65.1,64.0,67.1],[65.0,69.3,64.3,69.5],[69.3,74.15,67.8,74.5],[74.15,73.8,72.6,75.3],[73.8,71.0,69.0,74.7],[71.0,70.5,67.0,71.4],[70.5,68.7,67.7,71.0],[68.7,68.5,66.9,70.4],[68.5,67.6,66.3,69.6],[67.6,65.9,64.4,67.8],[65.9,68.7,65.1,68.9],[68.7,69.8,68.5,70.4],[69.8,67.75,67.0,71.4],[67.75,68.99,66.6,71.0],[69.0,70.8,68.5,71.3],[70.8,73.25,70.4,73.4],[73.25,74.3,73.0,76.9],[74.3,71.3,70.6,75.0],[71.3,69.1,68.5,72.3],[69.1,67.6,65.7,69.8],[67.6,63.1,62.8,67.7],[63.1,60.2,59.3,63.8],[60.2,56.5,54.8,62.4],[56.5,50.4,50.2,57.1],[50.4,50.9,49.4,52.5],[50.9,52.6,50.1,54.2],[52.6,51.2,50.4,53.3],[51.2,45.6,45.1,51.9],[45.6,45.3,42.4,46.8]];
const d2019 = [[45.3,48.0,44.4,48.6],[48.0,51.6,47.8,52.5],[51.6,53.8,50.3,54.2],[53.8,53.7,51.3,54.1],[53.7,55.3,51.3,55.8],[55.3,52.7,51.2,55.5],[52.7,55.6,51.8,55.9],[55.6,57.3,55.3,57.8],[57.3,55.8,55.2,57.9],[55.8,56.1,54.5,57.0],[56.1,58.5,55.6,58.8],[58.5,59.0,58.2,60.4],[59.0,60.1,58.0,60.4],[60.1,63.1,60.0,63.2],[63.1,63.9,63.0,64.8],[63.9,64.0,63.1,64.5],[64.0,63.3,62.9,66.6],[63.3,61.9,60.9,64.7],[61.9,61.7,60.0,62.7],[61.7,62.8,60.8,63.5],[62.8,58.6,57.3,63.3],[58.6,53.5,53.0,59.5],[53.5,54.0,50.6,54.8],[54.0,52.5,51.0,54.2],[52.5,57.4,51.5,58.0],[57.4,58.5,57.1,59.9],[58.1,59.4,57.0,60.5],[60.2,55.6,55.3,60.9],[56.2,55.6,54.8,57.5],[56.0,55.3,53.9,57.0],[55.3,53.7,50.5,56.0],[54.5,54.2,52.6,55.9],[54.8,56.1,54.3,56.8],[56.0,56.3,55.1,57.5],[58.7,55.9,55.0,60.8],[55.9,52.9,51.0,56.0],[52.6,54.8,51.6,55.2],[54.8,53.8,52.6,55.0],[53.8,56.5,53.2,56.9],[56.6,55.6,54.7,57.0],[55.6,57.2,55.3,57.9],[57.2,57.7,56.2,57.9],[57.7,57.8,55.8,58.5],[57.8,55.2,54.9,58.7],[55.2,59.2,55.0,59.4],[59.2,60.1,58.0,60.3],[60.1,60.4,59.8,61.2],[60.4,61.7,60.2,62.0],[61.7,63.0,60.6,63.8]];
const d2020 = [[63.0,59.0,58.7,65.6],[59.0,58.5,57.3,59.7],[58.5,54.2,53.3,58.9],[54.2,51.6,50.8,54.5],[51.6,50.3,49.3,52.2],[50.3,52.1,49.6,52.3],[52.1,53.4,51.2,54.0],[53.4,44.8,43.8,53.5],[44.0,41.3,40.8,48.6],[32.3,32.8,27.4,35.8],[30.4,19.6,19.5,31.8],[21.2,22.0,20.6,26.5],[20.9,28.9,18.8,29.2],[26.0,24.2,22.3,28.0],[24.5,18.0,17.3,24.9],[17.73,0.07,0.01,17.82]];

// Time axis: runs of consecutive weekly bars [first week, number of bars]; the feed skips some weeks
const weekRuns = [['2002-07-28', 385], ['2010-04-18', 480], ['2019-07-28', 39]];
const emptySlots = 39; // chart shift area on the right, no bars
const monthNames = ['Jan','Feb','Mar','Apr','May','Jun','Jul','Aug','Sep','Oct','Nov','Dec'];

// Price axis labels
const yTicks = [-0.95, 4.30, 9.55, 14.80, 20.00, 25.25, 30.50, 35.75, 41.00, 46.20, 51.45, 56.70, 61.95, 67.20, 72.40, 77.65, 82.90, 88.15, 93.40, 98.60, 103.85, 109.10, 114.35, 119.60, 124.85, 130.05, 135.30, 140.55, 145.80, 151.00];

// Murrey math levels
const levelValues = [125.00, 112.50, 100.00, 87.50, 75.00, 62.50, 50.00, 37.50, 25.00, 12.50, 0.00];
const levelNames = ['MN1[+2/8] W1[+2/8]', 'MN1[+1/8] W1[+1/8]', 'MN1RES W1RES', 'MN1[7/8] W1[7/8]', 'MN1[6/8] W1[6/8]', 'MN1[5/8] W1[5/8]', 'MN1PIVOT W1PIVOT', 'MN1[3/8] W1[3/8]', 'MN1[2/8] W1[2/8]', 'MN1[1/8] W1[1/8]', 'MN1SUP W1SUP'];
const levelColors = ['#C71585', '#FF00FF', '#1E90FF', '#FF8C00', '#FF4500', '#556B2F', '#1E90FF', '#556B2F', '#FF4500', '#FF8C00', '#1E90FF'];

const lastBar = {open: 17.73, high: 17.82, low: 0.01, close: 0.07};

// ---- Build ----
const bars = [].concat(d2002, d2003, d2004, d2005, d2006, d2007, d2008, d2009, d2010, d2011, d2012, d2013, d2014, d2015, d2016, d2017, d2018, d2019, d2020)
  .map(([o, c, l, h]) => [o, c, Math.min(l, o, c), Math.max(h, o, c)]);

const categories = [];
weekRuns.forEach(([start, n]) => {
  const t0 = Date.parse(start + 'T00:00:00Z');
  for (let k = 0; k < n; k++) {
    const d = new Date(t0 + k * 7 * 86400000);
    categories.push(d.getUTCDate() + ' ' + monthNames[d.getUTCMonth()] + ' ' + d.getUTCFullYear());
  }
});
for (let k = 0; k < emptySlots; k++) categories.push('');

const FONT = 'Liberation Sans';
const LABEL_BAR = 877;               // bar under which the level captions sit
const TAG_BAR = categories.length - 1;

const chart = echarts.init(document.getElementById('chart'), null, {renderer: 'canvas'});
chart.setOption({
  animation: false,
  backgroundColor: '#ffffff',
  title: {
    text: '#CL,Weekly  ' + [lastBar.open, lastBar.high, lastBar.low, lastBar.close].map(v => v.toFixed(2)).join(' '),
    left: 32, top: 10, padding: 0,
    textStyle: {fontSize: 19, fontWeight: 'normal', color: '#000', fontFamily: FONT}
  },
  graphic: [
    {type: 'polygon', shape: {points: [[9, 15], [23, 15], [16, 23]]}, style: {fill: '#000'}},
    {type: 'polygon', shape: {points: [[3388, 5], [3408, 5], [3398, 13]]}, style: {fill: '#b4b4b4'}},
    {type: 'polygon', shape: {points: [[4, 1960], [4, 1971], [15, 1971]]}, style: {fill: '#b4b4b4'}},
    {type: 'line', shape: {x1: 0, y1: 1, x2: 3840, y2: 1}, style: {stroke: '#a0a0a0', lineWidth: 2}},
    {type: 'line', shape: {x1: 1, y1: 0, x2: 1, y2: 2006}, style: {stroke: '#a0a0a0', lineWidth: 2}}
  ],
  grid: {left: 3, right: 63, top: 4, bottom: 34, show: true, borderColor: '#000', borderWidth: 1.5, backgroundColor: '#fff'},
  xAxis: {
    type: 'category', data: categories, boundaryGap: true,
    axisLine: {show: true, lineStyle: {color: '#000', width: 1.5}},
    axisTick: {show: true, interval: 31, length: 5, alignWithLabel: true, lineStyle: {color: '#000'}},
    axisLabel: {interval: 31, align: 'left', fontSize: 18, color: '#000', margin: 6, fontFamily: FONT, hideOverlap: false},
    splitLine: {show: true, interval: 15, lineStyle: {type: [3, 3], color: '#c0c0c0', width: 1}}
  },
  yAxis: {
    type: 'value', position: 'right', min: -3.78, max: 154.67, scale: true,
    axisLine: {show: true, lineStyle: {color: '#000', width: 1.5}},
    axisTick: {show: true, length: 4, customValues: yTicks, lineStyle: {color: '#000'}},
    axisLabel: {customValues: yTicks, formatter: v => v.toFixed(2), fontSize: 18, color: '#000', margin: 8, fontFamily: FONT},
    splitLine: {show: false}
  },
  series: [
    {
      name: 'grid', type: 'line', data: [], z: 1, silent: true,
      markLine: {
        silent: true, symbol: ['none', 'none'], label: {show: false},
        lineStyle: {type: [3, 3], color: '#c0c0c0', width: 1},
        data: yTicks.map(v => ({yAxis: v}))
      }
    },
    {
      name: '#CL', type: 'candlestick', data: bars, z: 3, large: false, barWidth: 3,
      itemStyle: {color: '#ffffff', color0: '#000000', borderColor: '#000000', borderColor0: '#000000', borderWidth: 1.2}
    },
    {
      name: 'levels', type: 'line', data: [], z: 4, silent: true,
      markLine: {
        silent: true, symbol: ['none', 'none'], label: {show: false},
        data: levelValues.map((v, i) => ({yAxis: v, lineStyle: {type: 'solid', color: levelColors[i], width: 2}}))
      }
    },
    {
      name: 'levelCaptions', type: 'scatter', z: 5, silent: true, symbolSize: 1,
      itemStyle: {color: 'transparent'},
      data: levelValues.map((v, i) => ({
        value: [LABEL_BAR, v],
        label: {show: true, position: 'bottom', distance: 3, formatter: levelNames[i], color: levelColors[i], fontSize: 21, fontFamily: FONT}
      }))
    },
    {
      name: 'bidTag', type: 'scatter', z: 5, silent: true, symbolSize: 1,
      itemStyle: {color: 'transparent'},
      data: [{
        value: [TAG_BAR, lastBar.close],
        label: {show: true, position: 'right', distance: 3, formatter: lastBar.close.toFixed(2), color: '#fff', backgroundColor: '#000', padding: [2, 8, 2, 5], fontSize: 18, fontFamily: FONT, offset: [0, -2]}
      }]
    },
    {
      name: 'levelTags', type: 'scatter', z: 6, silent: true, symbolSize: 1,
      itemStyle: {color: 'transparent'},
      data: levelValues.map((v, i) => ({
        value: [TAG_BAR, v],
        label: {show: true, position: 'right', distance: 3, formatter: v.toFixed(2), color: '#fff', backgroundColor: levelColors[i], padding: [2, 8, 2, 5], fontSize: 18, fontFamily: FONT, offset: [0, 6]}
      }))
    }
  ]
});
</script>
</body>
</html>
